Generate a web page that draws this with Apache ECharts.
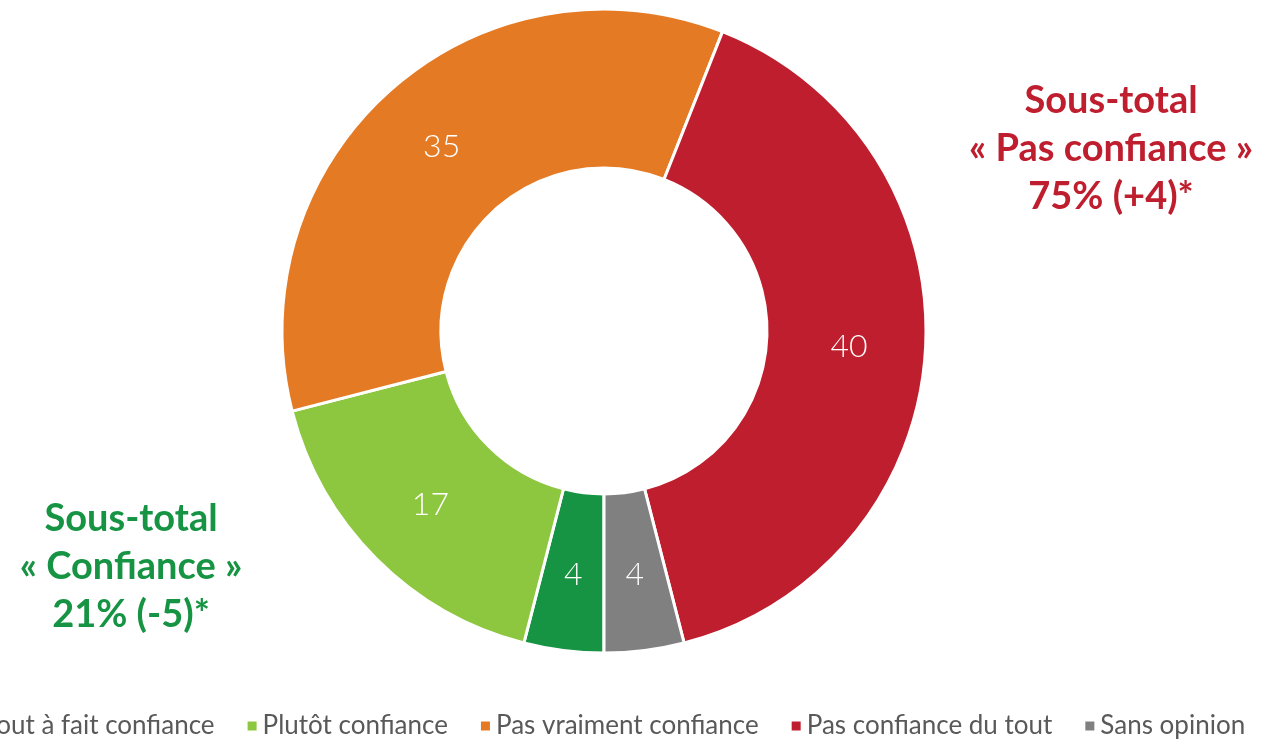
<!DOCTYPE html>
<html>
<head>
<meta charset="utf-8">
<script src="https://cdn.jsdelivr.net/npm/echarts@6/dist/echarts.min.js"></script>
<style>
  html, body { margin: 0; padding: 0; background: #fff; }
  #main { width: 1268px; height: 740px; }
</style>
</head>
<body>
<div id="main"></div>
<script>
// réponses, dans l'ordre du cercle (à partir du bas, sens horaire)
var categories = ["Tout à fait confiance", "Plutôt confiance", "Pas vraiment confiance", "Pas confiance du tout", "Sans opinion"];
var values = [4, 17, 35, 40, 4];
var colors = ["#169443", "#8DC63F", "#E57A24", "#BE1E2D", "#808080"];

var sousTotalPas = ["Sous-total", "« Pas confiance »", "75% (+4)*"];
var sousTotalConf = ["Sous-total", "« Confiance »", "21% (-5)*"];

var font = "Lato, 'Open Sans', sans-serif";

var chart = echarts.init(document.getElementById("main"));

var data = [];
for (var i = 0; i < categories.length; i++) {
    data.push({ name: categories[i], value: values[i], itemStyle: { color: colors[i] } });
}

chart.setOption({
    animation: false,
    legend: {
        data: categories,
        left: -38,
        top: 708,
        itemWidth: 11,
        itemHeight: 11,
        itemGap: 31,
        icon: "rect",
        textStyle: { fontFamily: font, fontSize: 26, color: "#595959" }
    },
    graphic: [
        {
            type: "text",
            x: 1111,
            y: 77,
            style: {
                text: sousTotalPas.join("\n"),
                align: "center",
                fill: "#BE1E2D",
                font: "bold 38px " + font,
                lineHeight: 48
            }
        },
        {
            type: "text",
            x: 131,
            y: 495,
            style: {
                text: sousTotalConf.join("\n"),
                align: "center",
                fill: "#169443",
                font: "bold 38px " + font,
                lineHeight: 48
            }
        }
    ],
    series: [{
        type: "pie",
        center: [604, 331],
        radius: [163, 322],
        startAngle: -90,
        clockwise: true,
        avoidLabelOverlap: false,
        itemStyle: { borderColor: "#fff", borderWidth: 3 },
        label: {
            show: true,
            position: "inside",
            formatter: "{c}",
            color: "#fff",
            fontFamily: font,
            fontSize: 32,
            fontWeight: 300,
            padding: [6, 0, 0, 0]
        },
        labelLine: { show: false },
        emphasis: { disabled: true },
        data: data
    }]
});
</script>
</body>
</html>
